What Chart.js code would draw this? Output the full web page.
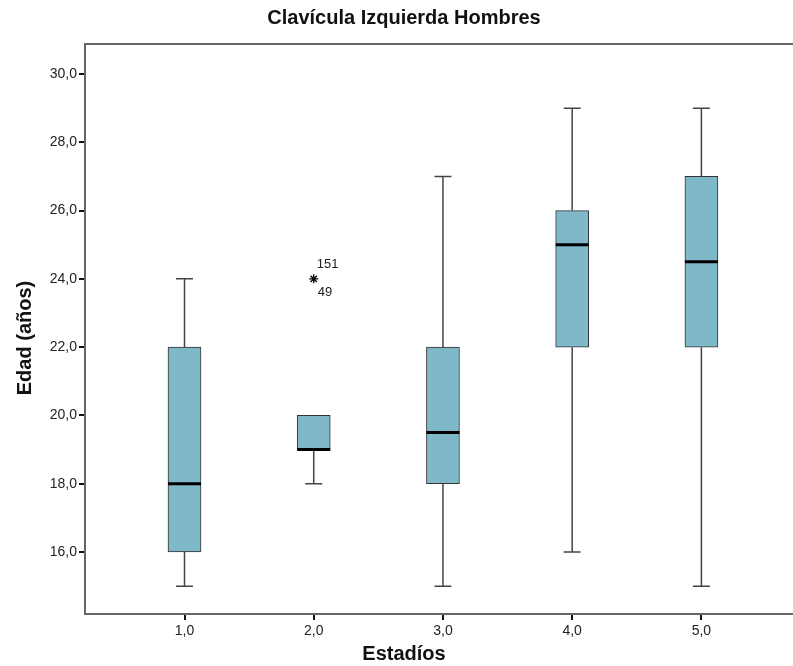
<!DOCTYPE html>
<html>
<head>
<meta charset="utf-8">
<script src="https://cdn.jsdelivr.net/npm/chart.js@4"></script>
<style>
  html, body { margin: 0; padding: 0; background: #fff; overflow: hidden; }
  #wrap { position: absolute; left: 0; top: 0; width: 808px; height: 666px; }
</style>
</head>
<body>
<div id="wrap"><canvas id="myChart" width="808" height="666"></canvas></div>
<script>
// Clavicula izquierda, hombres: edad por estadio
const stages = [1, 2, 3, 4, 5];
const whiskerLow = [15, 18, 15, 16, 15];
const q1 = [16, 19, 18, 22, 22];
const median = [18, 19, 19.5, 25, 24.5];
const q3 = [22, 20, 22, 26, 27];
const whiskerHigh = [24, 20, 27, 29, 29];

const outlierStage = [2];
const outlierValue = [24];
const outlierCases = [['151', '49']];

const yTicks = [16, 18, 20, 22, 24, 26, 28, 30];
const xTicks = [1, 2, 3, 4, 5];

const fmt = v => v.toFixed(1).replace('.', ',');

Chart.defaults.font.family = '"Liberation Sans", Arial, sans-serif';
Chart.defaults.color = '#222';

const boxExtras = {
  id: 'boxExtras',
  afterDatasetsDraw(chart) {
    const { ctx, chartArea, scales: { x, y } } = chart;
    ctx.save();

    // top frame line
    ctx.strokeStyle = '#666';
    ctx.lineWidth = 2;
    ctx.beginPath();
    ctx.moveTo(chartArea.left - 1, chartArea.top);
    ctx.lineTo(chartArea.right, chartArea.top);
    ctx.stroke();

    // whiskers
    ctx.strokeStyle = '#444';
    ctx.lineWidth = 1.5;
    stages.forEach((s, i) => {
      const cx = x.getPixelForValue(s);
      const capHalf = 8.5;
      if (whiskerLow[i] < q1[i]) {
        ctx.beginPath();
        ctx.moveTo(cx, y.getPixelForValue(q1[i]));
        ctx.lineTo(cx, y.getPixelForValue(whiskerLow[i]));
        ctx.moveTo(cx - capHalf, y.getPixelForValue(whiskerLow[i]));
        ctx.lineTo(cx + capHalf, y.getPixelForValue(whiskerLow[i]));
        ctx.stroke();
      }
      if (whiskerHigh[i] > q3[i]) {
        ctx.beginPath();
        ctx.moveTo(cx, y.getPixelForValue(q3[i]));
        ctx.lineTo(cx, y.getPixelForValue(whiskerHigh[i]));
        ctx.moveTo(cx - capHalf, y.getPixelForValue(whiskerHigh[i]));
        ctx.lineTo(cx + capHalf, y.getPixelForValue(whiskerHigh[i]));
        ctx.stroke();
      }
    });

    // medians
    ctx.strokeStyle = '#000';
    ctx.lineWidth = 3;
    stages.forEach((s, i) => {
      const cx = x.getPixelForValue(s);
      const my = y.getPixelForValue(median[i]);
      ctx.beginPath();
      ctx.moveTo(cx - 16.5, my);
      ctx.lineTo(cx + 16.5, my);
      ctx.stroke();
    });

    // outlier case labels
    ctx.fillStyle = '#222';
    ctx.font = '13px "Liberation Sans", Arial, sans-serif';
    ctx.textAlign = 'left';
    ctx.textBaseline = 'middle';
    outlierStage.forEach((s, i) => {
      const px = x.getPixelForValue(s);
      const py = y.getPixelForValue(outlierValue[i]);
      ctx.fillText(outlierCases[i][0], px + 3, py - 14);
      ctx.fillText(outlierCases[i][1], px + 4, py + 14);
    });

    // axis titles
    ctx.fillStyle = '#111';
    ctx.font = 'bold 20px "Liberation Sans", Arial, sans-serif';
    ctx.textAlign = 'center';
    ctx.textBaseline = 'middle';
    ctx.fillText('Estadíos', 404, 654);
    ctx.translate(25, 338);
    ctx.rotate(-Math.PI / 2);
    ctx.fillText('Edad (años)', 0, 0);
    ctx.restore();
  }
};

const myChart = new Chart(document.getElementById('myChart'), {
  type: 'bar',
  data: {
    datasets: [
      {
        type: 'bar',
        data: stages.map((s, i) => ({ x: s, y: [q1[i], q3[i]] })),
        backgroundColor: '#7fb9c9',
        borderColor: '#333',
        borderWidth: 1,
        borderSkipped: false,
        barThickness: 33,
      },
      {
        type: 'scatter',
        data: outlierStage.map((s, i) => ({ x: s, y: outlierValue[i] })),
        pointStyle: 'star',
        pointRadius: 4.5,
        borderColor: '#000',
        backgroundColor: '#000',
        borderWidth: 1.3,
      },
    ],
  },
  options: {
    responsive: false,
    animation: false,
    layout: { padding: 0 },
    plugins: {
      legend: { display: false },
      tooltip: { enabled: false },
      title: {
        display: true,
        text: 'Clavícula Izquierda Hombres',
        color: '#111',
        font: { size: 20, weight: 'bold' },
        padding: { top: 6, bottom: 14 },
      },
    },
    scales: {
      x: {
        type: 'linear',
        offset: false,
        min: 0.23,
        max: 5.78,
        afterBuildTicks: scale => { scale.ticks = xTicks.map(v => ({ value: v })); },
        afterFit: scale => { scale.height = 52; },
        ticks: { callback: v => fmt(v), font: { size: 14 }, padding: 3, maxRotation: 0 },
        grid: { offset: false, drawOnChartArea: false, tickLength: 6, color: '#111', lineWidth: 2 },
        border: { color: '#666', width: 2 },
      },
      y: {
        min: 14.184,
        max: 30.879,
        afterBuildTicks: scale => { scale.ticks = yTicks.map(v => ({ value: v })); },
        afterFit: scale => { scale.width = 85; },
        ticks: { callback: v => fmt(v), font: { size: 14 }, padding: 2 },
        grid: { drawOnChartArea: false, tickLength: 6, color: '#111', lineWidth: 2 },
        border: { color: '#666', width: 2 },
      },
    },
  },
  plugins: [boxExtras],
});
</script>
</body>
</html>
